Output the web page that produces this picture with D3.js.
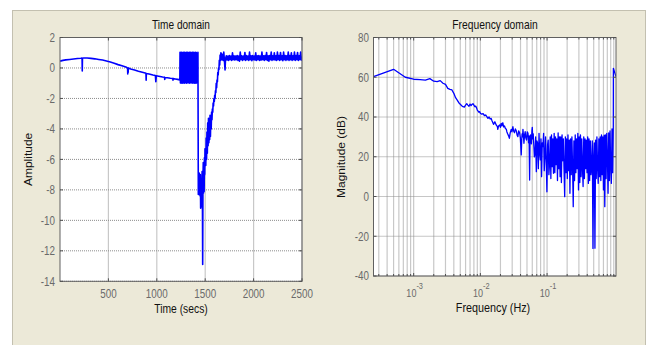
<!DOCTYPE html>
<html><head><meta charset="utf-8">
<script src="https://cdn.jsdelivr.net/npm/d3@7"></script>
<style>html,body{margin:0;padding:0;background:#fff;overflow:hidden}</style>
</head><body><svg id="c" width="648" height="345"></svg>
<script>
// ---------- Time domain data (seconds, amplitude) ----------
const driftTime = [1,30,60,100,140,180,215,228,230,232,245,280,320,360,400,440,480,520,560,600,640,680,698,700,702,704,706,730,770,810,850,880,888,890,892,920,960,985,990,995,1020,1060,1080,1082,1084,1110,1140,1165,1167,1169,1190,1215,1238];
const driftAmp  = [0.45,0.5,0.53,0.56,0.59,0.62,0.64,0.65,-0.2,0.64,0.65,0.65,0.63,0.6,0.56,0.52,0.46,0.39,0.31,0.22,0.14,0.06,0.0,-0.4,0.0,-0.3,0.0,-0.07,-0.13,-0.21,-0.28,-0.33,-0.35,-0.8,-0.36,-0.4,-0.46,-0.49,-0.9,-0.51,-0.54,-0.59,-0.61,-0.75,-0.62,-0.64,-0.67,-0.69,-0.8,-0.7,-0.72,-0.75,-0.78];

const burstTime = [1240,1244,1248,1252,1256,1260,1264,1268,1272,1276,1280,1284,1288,1292,1296,1300,1304,1308,1312,1316,1320,1324,1328,1332,1336,1340,1344,1348,1352,1356,1360,1364,1368,1372,1376,1380,1384,1388,1392,1396,1400,1404,1408,1412,1420,1425];
const burstAmp  = [1.03,-0.98,1.02,-1.0,1.03,-0.97,1.0,-1.0,1.03,-0.95,1.02,-1.0,1.03,-0.98,1.0,-0.9,1.03,-1.0,1.02,-0.7,1.03,-0.98,1.0,-0.6,1.03,-1.0,1.02,-0.8,1.03,-0.98,1.0,-0.5,1.03,-1.0,1.02,-0.97,1.03,-1.0,1.0,-0.98,1.03,-1.0,1.02,-0.98,-0.95,1.03];

const dipTime = [1429,1432,1435,1438,1441,1444,1447,1450,1453,1456,1459,1462,1465,1468,1471,1474,1477,1480,1483,1486,1489,1492,1495,1498];
const dipAmp  = [-8.3,-7.0,-8.3,-6.9,-8.2,-7.2,-8.4,-7.0,-9.2,-7.5,-9.1,-7.4,-8.3,-6.8,-8.0,-12.9,-7.2,-6.2,-8.2,-6.4,-8.1,-5.9,-7.0,-5.3];

const riseTime = [1502,1506,1510,1514,1518,1522,1526,1530,1534,1538,1542,1546,1550,1554,1558,1562,1566,1570,1574,1578,1582,1586,1590,1594,1598,1602,1606,1610,1614,1618,1622,1626,1630,1634,1638,1642,1646,1650,1654,1658,1662,1666,1670];
const riseAmp  = [-6.0,-6.4,-4.6,-6.0,-4.2,-5.6,-3.6,-5.1,-3.3,-4.9,-3.4,-4.7,-3.1,-4.5,-3.2,-4.0,-2.9,-3.4,-2.7,-2.9,-2.3,-2.5,-2.0,-2.2,-1.8,-2.0,-1.5,-1.6,-1.0,-1.3,-0.8,-0.9,-0.3,-0.45,0.0,-0.1,0.5,0.2,0.85,0.5,1.0,0.55,0.95];

const settleTime = [1674,1680,1686,1692,1698,1705,1710,1718,1726,1734,1742,1750,1758,1766,1774,1782,1790,1798,1806,1814,1822,1830,1838,1846,1854,1862,1870,1878,1886,1894,1902,1910,1918,1926,1934,1942,1950,1958,1966,1974,1982,1990,1998,2006,2014,2022,2030,2038,2046,2054,2062,2070,2078,2086,2094,2102,2110,2118,2126,2134,2142,2150,2158,2166,2174,2182,2190,2198,2206,2214,2222,2230,2238,2246,2254,2262,2270,2278,2286,2294,2302,2310,2318,2326,2334,2342,2350,2358,2366,2374,2382,2390,2398,2406,2414,2422,2430,2438,2446,2454,2462,2470,2478,2486,2494,2500];
const settleAmp  = [0.55,0.85,0.5,1.05,0.55,-0.13,
  0.6,0.8,0.52,0.78,0.5,0.82,0.55,0.78,0.5,1.0,
  0.55,0.8,0.52,0.78,0.55,0.82,0.5,0.78,0.45,1.05,
  0.55,0.8,0.5,0.78,0.55,1.02,0.5,0.82,0.55,0.78,
  0.5,1.05,0.55,0.8,0.48,0.82,0.55,0.78,0.52,1.0,
  0.5,0.8,0.55,0.82,0.5,0.78,0.52,1.05,0.55,0.8,
  0.5,0.82,0.55,1.02,0.5,0.8,0.45,0.82,0.55,1.05,
  0.5,0.8,0.55,1.0,0.52,0.8,0.5,1.05,0.55,0.82,
  0.5,1.02,0.55,0.8,0.48,1.05,0.55,0.82,0.5,0.8,
  0.55,1.05,0.5,0.82,0.55,1.0,0.5,0.8,0.55,1.05,
  0.5,0.82,0.55,1.02,0.5,0.8,0.55,1.05,0.52,
  0.75];

// ---------- Frequency domain data (FFT bin index, magnitude dB) ----------
const binWidthHz = 0.00025;
const lowBins = [1,2,3,4,5,6,7,8,9,10,11,12,13,14,15,16,17,18,19,20,21,22,23,24,25,26,27,28,29,30,31,32,33,34,35,36,37,38,39,40,42,44,46,48,50,52,54,56,58,60,63,66,69,72];
const lowDb   = [60.3,64.0,60.0,59.0,58.8,58.6,59.3,58.0,57.8,58.3,57.0,56.4,54.4,53.9,53.6,51.9,49.7,48.5,47.2,46.4,45.7,45.2,45.0,46.0,46.7,46.0,45.4,46.5,45.7,46.4,46.7,46.0,45.2,45.5,44.7,43.5,43.0,42.4,42.7,41.9,41.4,41.7,40.7,41.0,40.2,39.3,40.0,39.0,39.3,38.0,36.3,37.6,36.0,35.1];
const midBins = [73,75,78,80,82,84,87,89,92,95,98,100,103,106,109,112,116,119,123,126,130,134,138,142,146,150,155,159,164,167,169,172,174,177,180,184,188,192,197,202,207,211,215,219,222,226,229,233,237,240,244,248];
const midDb   = [33.8,35.5,36.0,34.8,36.8,35.6,37.1,35.0,35.5,34.2,33.8,32.5,31.4,30.5,29.3,32.0,33.8,32.5,35.1,33.0,32.1,34.0,33.1,31.0,30.1,33.0,32.1,29.5,20.9,29.0,31.5,30.0,33.8,30.5,26.8,31.0,32.6,29.5,28.4,32.5,31.8,27.0,30.5,8.3,27.5,31.0,30.1,26.5,33.0,34.8,29.0,31.5];
const highBins = [252,258,264,270,276,282,289,296,303,310,317,324,331,339,347,355,363,371,380,389,398,407,416,426,436,446,456,466,477,488,499,511,523,535,547,560,573,586,599,613,627,641,656,671,686,702,718,735,752,769,787,805,823,842,861,881,901,922,943,965,987,1010,1033,1057,1081,1106,1131,1157,1184,1211,1239,1267,1296,1326,1356,1387,1419,1452,1485,1519,1554,1590,1626,1663,1701,1740,1780,1821,1863,1906,1950,1995,2041,2088,2136,2185,2235,2286,2338,2392,2447,2503,2560,2619,2679,2740,2803,2867,2933,3000,3069,3139,3211,3285,3360,3437,3516,3597,3680,3764,3850,3935,3945,4320];
const highDb   = [27,20,21.7,30,12.5,28,26.8,14,31.8,22,18.4,29,10,27,25.1,31.8,13,20,30,17,2.4,26,28.4,11,16.7,30,9,31,15,29,11.7,31.8,12,30,16,29,8,32,14,30,10,30,7,31,18,29,14,-0.1,30,12,29,9,31,13,28.4,1.6,29,11,30,15,-5.1,28,8,31,12,29,14,31.8,3.3,30,7,31,10,29,15,5,30,9,29,14,28.4,12,30,6.6,29,8,28,11,15,28,-26.1,20,27,-26,28.4,9,30,15,6.6,29,10,30,8,31,11,30,3.3,30.9,-5.1,31,9,31.8,20,1.6,32,8,33,15,6.6,34,12,35.5,64.5,60.3];

// ---------- Axis tick values ----------
const timeTicks = [500,1000,1500,2000,2500];
const ampTicks = [-14,-12,-10,-8,-6,-4,-2,0,2];
const magTicks = [-40,-20,0,20,40,60,80];
const freqDecades = [1e-3,1e-2,1e-1];
const freqDecadeExp = ["-3","-2","-1"];

// ---------- build series ----------
const zip = (a,b)=>a.map((v,i)=>[v,b[i]]);
const timeSeries = [].concat(zip(driftTime,driftAmp),zip(burstTime,burstAmp),zip(dipTime,dipAmp),zip(riseTime,riseAmp),zip(settleTime,settleAmp));
const freqSeries = [].concat(zip(lowBins,lowDb),zip(midBins,midDb),zip(highBins,highDb)).map(d=>[d[0]*binWidthHz,d[1]]);

const svg = d3.select('#c');
const FONT = '"Liberation Sans", Arial, Helvetica, sans-serif';
svg.append('rect').attr('width',648).attr('height',345).attr('fill','#fff');
svg.append('rect').attr('x',12.5).attr('y',10.5).attr('width',633).attr('height',345).attr('fill','#ECE9D8').attr('stroke','#c3c0b0');

function label(x,y,s,o={}){
  const size=o.size||12, sx=o.sx||0.82;
  const t=svg.append('text')
    .attr('transform',`translate(${x},${y}) scale(${sx},1)`+(o.rot?' rotate(-90)':''))
    .attr('font-family',FONT).attr('font-size',size).attr('fill',o.color||'#111')
    .attr('text-anchor',o.anchor||'middle').text(s);
  return t;
}

const xT = d3.scaleLinear().domain([0,2500]).range([60,302]);
const yT = d3.scaleLinear().domain([-14,2]).range([281.3,37.5]);
const xF = d3.scaleLog().domain([2.5e-4,1.08]).range([373.5,616]);
const yF = d3.scaleLinear().domain([-40,80]).range([276,37.5]);

function plot(xs,ys,vMajor,vMinor,hTicks,data,id,lw){
  const [x0,x1]=xs.range(); const [y1,y0]=ys.range();
  const g=svg.append('g');
  g.append('rect').attr('x',x0).attr('y',y0).attr('width',x1-x0).attr('height',y1-y0).attr('fill','#fff');
  g.selectAll(null).data(vMajor.concat(vMinor)).join('line')
    .attr('x1',d=>xs(d)).attr('x2',d=>xs(d)).attr('y1',y0).attr('y2',y1)
    .attr('stroke','#c8c8c8').attr('stroke-width',1.2);
  g.selectAll(null).data(hTicks).join('line')
    .attr('x1',x0).attr('x2',x1).attr('y1',d=>ys(d)).attr('y2',d=>ys(d))
    .attr('stroke','#8c8c8c').attr('stroke-dasharray','1,1');
  svg.append('clipPath').attr('id',id).append('rect').attr('x',x0).attr('y',y0).attr('width',x1-x0).attr('height',y1-y0);
  g.append('path').datum(data).attr('clip-path',`url(#${id})`)
    .attr('d',d3.line().x(d=>xs(d[0])).y(d=>ys(d[1])))
    .attr('fill','none').attr('stroke','#0000ff').attr('stroke-width',lw).attr('stroke-linejoin','round');
  g.append('rect').attr('x',x0).attr('y',y0).attr('width',x1-x0).attr('height',y1-y0)
    .attr('fill','none').attr('stroke','#606060').attr('stroke-width',1);
  const tk=(x1a,y1a,x2a,y2a)=>g.append('line').attr('x1',x1a).attr('y1',y1a).attr('x2',x2a).attr('y2',y2a).attr('stroke','#505050').attr('stroke-width',1);
  vMajor.forEach(d=>{const x=xs(d); tk(x,y1,x,y1-3); tk(x,y0,x,y0+3);});
  vMinor.forEach(d=>{const x=xs(d); tk(x,y1,x,y1-2); tk(x,y0,x,y0+2);});
  hTicks.forEach(d=>{const y=ys(d); tk(x0,y,x0+3,y); tk(x1,y,x1-3,y);});
}

// Left: time domain
plot(xT,yT,timeTicks,[],ampTicks,timeSeries,'clipT',1.6);
ampTicks.forEach(v=>label(55,yT(v)+4.3,String(v),{anchor:'end',color:'#6a6a6a'}));
timeTicks.forEach(v=>label(xT(v),298,String(v),{color:'#6a6a6a'}));
label(181,29.3,'Time domain',{sx:0.84});
label(181,312.5,'Time (secs)',{sx:0.86});
label(32,159.4,'Amplitude',{rot:true,sx:0.85});

// Right: frequency domain
const minor = xF.ticks().filter(v=>!freqDecades.some(d=>Math.abs(v-d)<d*1e-6));
plot(xF,yF,freqDecades,minor,magTicks,freqSeries,'clipF',1.3);
magTicks.forEach(v=>label(369,yF(v)+4.3,String(v),{anchor:'end',color:'#6a6a6a'}));
freqDecades.forEach((d,i)=>{
  const t=label(xF(d)+1,297,'10',{size:11,color:'#6a6a6a'});
  t.append('tspan').attr('dy',-8.3).attr('font-size',9).text(freqDecadeExp[i]);
});
label(495,28.5,'Frequency domain',{sx:0.86});
label(493,312,'Frequency (Hz)',{sx:0.9});
label(345,157,'Magnitude (dB)',{rot:true,sx:0.85});
</script></body></html>
